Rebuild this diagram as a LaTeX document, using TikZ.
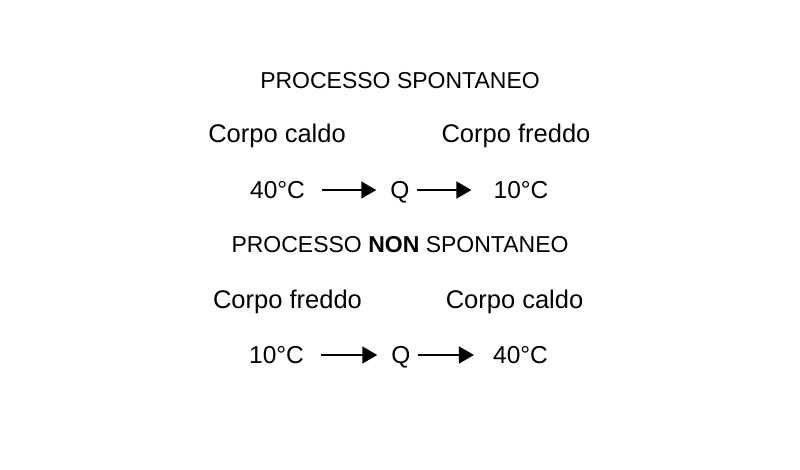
\documentclass[tikz,border=0pt]{standalone}
\usepackage{fontspec}
\setmainfont{Liberation Sans}
\usetikzlibrary{arrows.meta}

\tikzset{
  titolo/.style={inner sep=0pt, anchor=base, font=\fontsize{23}{28}\selectfont},
  corpo/.style={inner sep=0pt, anchor=base, font=\fontsize{25.5}{28}\selectfont},
  temp/.style={inner sep=0pt, anchor=base, font=\fontsize{24.5}{28}\selectfont},
  calore/.style={line width=1.5pt, -{Triangle[length=15pt,width=17pt]}}
}

\begin{document}
\begin{tikzpicture}[x=1pt,y=1pt,yscale=-1,xscale=1]
\useasboundingbox (0,0) rectangle (800,469);

% Text Node
\node (titA) at (400,88) [titolo] {PROCESSO SPONTANEO};
% Text Node
\node (caldoA) at (277,142) [corpo] {Corpo caldo};
% Text Node
\node (freddoA) at (516,142) [corpo] {Corpo freddo};
% Text Node
\node (tA) at (277.5,198) [temp] {40°C};
% Text Node
\node (qA) at (400,198) [temp] {Q};
% Text Node
\node (uA) at (521,198) [temp] {10°C};
%Straight Lines
\draw [calore, shorten <=17pt, shorten >=14pt] (tA.east |- 0,190) -- (qA.west |- 0,190);
\draw [calore, shorten <=7pt, shorten >=22pt] (qA.east |- 0,190) -- (uA.west |- 0,190);

% Text Node
\node (titB) at (400,252) [titolo] {PROCESSO \textbf{NON} SPONTANEO};
% Text Node
\node (freddoB) at (287.5,308) [corpo] {Corpo freddo};
% Text Node
\node (caldoB) at (514.5,308) [corpo] {Corpo caldo};
% Text Node
\node (tB) at (276.5,363) [temp] {10°C};
% Text Node
\node (qB) at (401,363) [temp] {Q};
% Text Node
\node (uB) at (520.5,363) [temp] {40°C};
%Straight Lines
\draw [calore, shorten <=17pt, shorten >=14pt] (tB.east |- 0,355) -- (qB.west |- 0,355);
\draw [calore, shorten <=7pt, shorten >=19pt] (qB.east |- 0,355) -- (uB.west |- 0,355);

\end{tikzpicture}
\end{document}
